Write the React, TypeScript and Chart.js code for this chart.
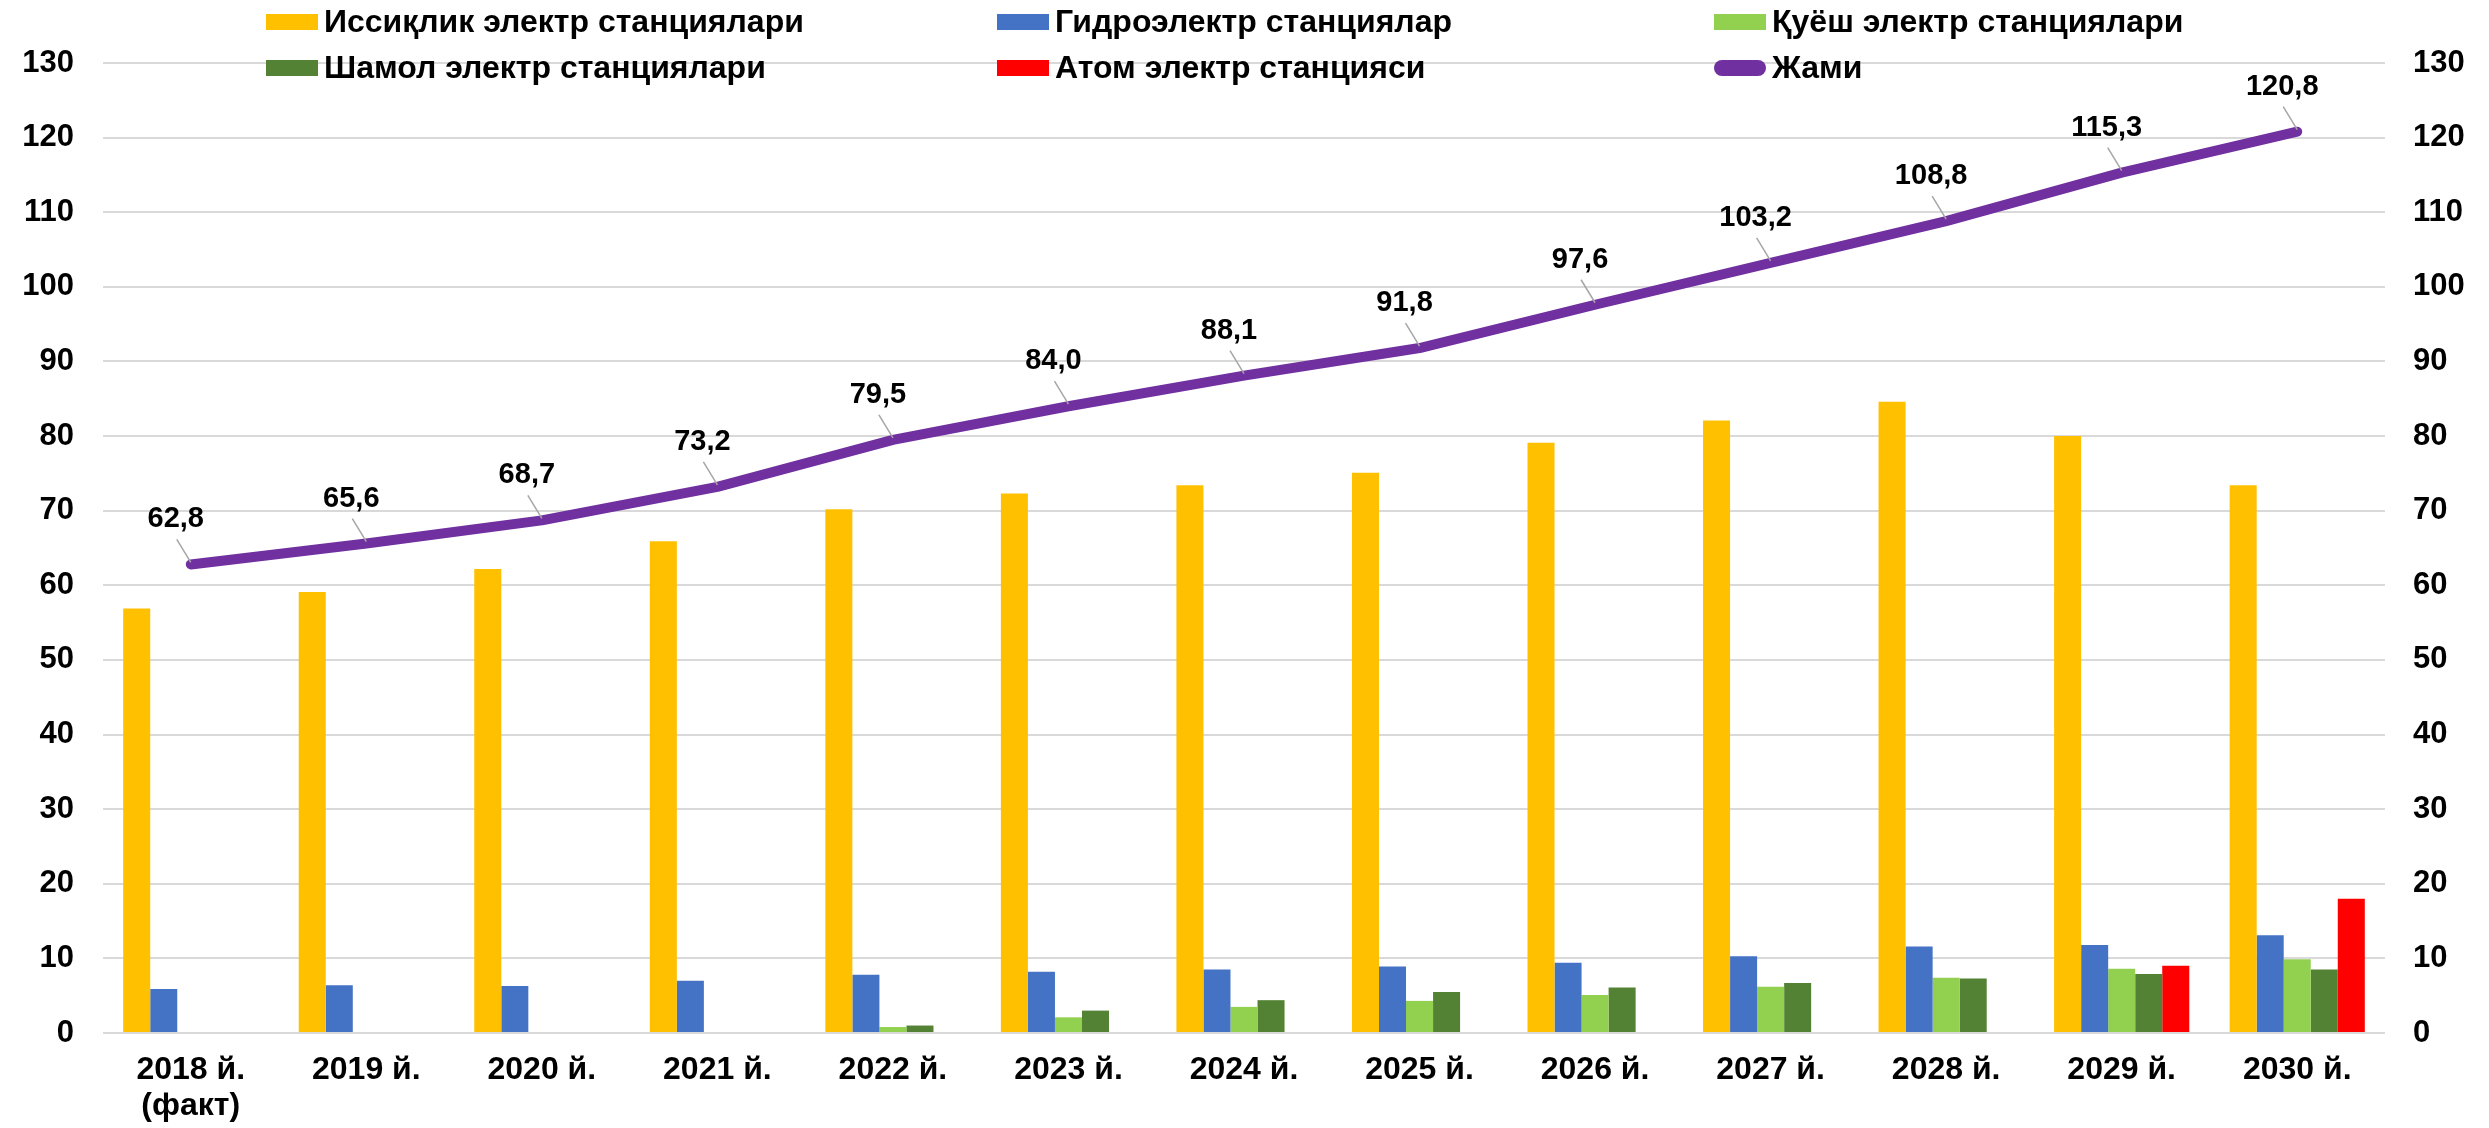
import React, { useEffect, useRef } from "react";
import { Chart, registerables } from "chart.js";

Chart.register(...registerables);

const categories: (string | string[])[] = [
  ["2018 й.", "(факт)"],
  "2019 й.",
  "2020 й.",
  "2021 й.",
  "2022 й.",
  "2023 й.",
  "2024 й.",
  "2025 й.",
  "2026 й.",
  "2027 й.",
  "2028 й.",
  "2029 й.",
  "2030 й.",
];

const seriesNames = [
  "Иссиқлик электр станциялари",
  "Гидроэлектр станциялар",
  "Қуёш электр станциялари",
  "Шамол электр станциялари",
  "Атом электр станцияси",
  "Жами",
];

const thermal = [56.9, 59.1, 62.2, 65.9, 70.2, 72.3, 73.4, 75.1, 79.1, 82.1, 84.6, 80.0, 73.4];
const hydro = [5.9, 6.4, 6.3, 7.0, 7.8, 8.2, 8.5, 8.9, 9.4, 10.3, 11.6, 11.8, 13.1];
const solar = [0, 0, 0, 0, 0.8, 2.1, 3.5, 4.3, 5.1, 6.2, 7.4, 8.6, 9.9];
const wind = [0, 0, 0, 0, 1.0, 3.0, 4.4, 5.5, 6.1, 6.7, 7.3, 7.9, 8.5];
const nuclear = [0, 0, 0, 0, 0, 0, 0, 0, 0, 0, 0, 9.0, 18.0];
const total = [62.8, 65.6, 68.7, 73.2, 79.5, 84.0, 88.1, 91.8, 97.6, 103.2, 108.8, 115.3, 120.8];

const colors = ["#FFC000", "#4472C4", "#92D050", "#548235", "#FF0000", "#7030A0"];

const FONT = "'Liberation Sans', Arial, Helvetica, sans-serif";

const legendPlugin = {
  id: "gridLegend",
  afterDraw(chart: any) {
    const ctx = chart.ctx;
    const colX = [266, 997, 1714];
    const rowY = [22, 68];
    const order = [0, 1, 2, 3, 4, 5];
    ctx.save();
    ctx.font = `bold 32px ${FONT}`;
    ctx.textBaseline = "middle";
    ctx.textAlign = "left";
    order.forEach((di, k) => {
      const x = colX[k % 3];
      const y = rowY[Math.floor(k / 3)];
      ctx.fillStyle = colors[di];
      if (di === 5) {
        ctx.strokeStyle = colors[di];
        ctx.lineWidth = 16;
        ctx.lineCap = "round";
        ctx.beginPath();
        ctx.moveTo(x + 8, y);
        ctx.lineTo(x + 44, y);
        ctx.stroke();
      } else {
        ctx.fillRect(x, y - 8, 52, 16);
      }
      ctx.fillStyle = "#000";
      ctx.fillText(seriesNames[di], x + 58, y + 1);
    });
    ctx.restore();
  },
};

const totalLabelPlugin = {
  id: "totalLabels",
  afterDatasetsDraw(chart: any) {
    const ctx = chart.ctx;
    const meta = chart.getDatasetMeta(5);
    ctx.save();
    meta.data.forEach((pt: any, i: number) => {
      const x = pt.x;
      const y = pt.y;
      const cx = x - 15;
      const cy = y - 45;
      ctx.strokeStyle = "#a6a6a6";
      ctx.lineWidth = 1.5;
      ctx.beginPath();
      ctx.moveTo(cx + 1, cy + 20);
      ctx.lineTo(x, y - 2);
      ctx.stroke();
      ctx.fillStyle = "#000";
      ctx.font = `bold 29px ${FONT}`;
      ctx.textAlign = "center";
      ctx.textBaseline = "middle";
      ctx.fillText(total[i].toFixed(1).replace(".", ","), cx, cy);
    });
    ctx.restore();
  },
};

export default function App() {
  const ref = useRef<HTMLCanvasElement | null>(null);

  useEffect(() => {
    if (!ref.current) return;
    const barData = [thermal, hydro, solar, wind, nuclear];
    const chart = new Chart(ref.current, {
      type: "bar",
      data: {
        labels: categories as any,
        datasets: [
          ...barData.map((d, i) => ({
            type: "bar" as const,
            label: seriesNames[i],
            data: d,
            backgroundColor: colors[i],
            borderWidth: 0,
            categoryPercentage: 0.77,
            barPercentage: 1.0,
            yAxisID: "y",
            order: 2,
          })),
          {
            type: "line" as const,
            label: seriesNames[5],
            data: total,
            borderColor: colors[5],
            backgroundColor: colors[5],
            borderWidth: 10,
            pointRadius: 0,
            borderCapStyle: "round",
            borderJoinStyle: "round",
            tension: 0,
            yAxisID: "y",
            order: 0,
          } as any,
        ],
      },
      options: {
        responsive: false,
        animation: false,
        devicePixelRatio: 1,
        layout: { padding: { top: 63, left: 0, right: 0, bottom: 0 } },
        plugins: {
          legend: { display: false },
          tooltip: { enabled: false },
        },
        scales: {
          x: {
            grid: { display: false, drawTicks: false },
            border: { display: false },
            ticks: {
              color: "#000",
              padding: 20,
              maxRotation: 0,
              autoSkip: false,
              font: { family: FONT, size: 32, weight: "bold", lineHeight: 1.1 },
            },
            afterFit: (scale: any) => {
              scale.height = 95;
            },
          },
          y: {
            position: "left",
            min: 0,
            max: 130,
            ticks: {
              stepSize: 10,
              color: "#000",
              padding: 29,
              font: { family: FONT, size: 31, weight: "bold" },
            },
            grid: { color: "#d9d9d9", lineWidth: 2, drawTicks: false },
            border: { display: false },
            afterFit: (scale: any) => {
              scale.width = 103;
            },
          },
          y2: {
            position: "right",
            display: true,
            min: 0,
            max: 130,
            ticks: {
              stepSize: 10,
              color: "#000",
              padding: 28,
              font: { family: FONT, size: 31, weight: "bold" },
            },
            grid: { drawOnChartArea: false, drawTicks: false },
            border: { display: false },
            afterFit: (scale: any) => {
              scale.width = 104;
            },
          },
        },
      } as any,
      plugins: [legendPlugin, totalLabelPlugin],
    });
    return () => chart.destroy();
  }, []);

  return (
    <div style={{ position: "absolute", left: 0, top: 0, width: 2489, height: 1128, background: "#fff" }}>
      <canvas ref={ref} width={2489} height={1128} style={{ width: 2489, height: 1128, display: "block" }} />
    </div>
  );
}
